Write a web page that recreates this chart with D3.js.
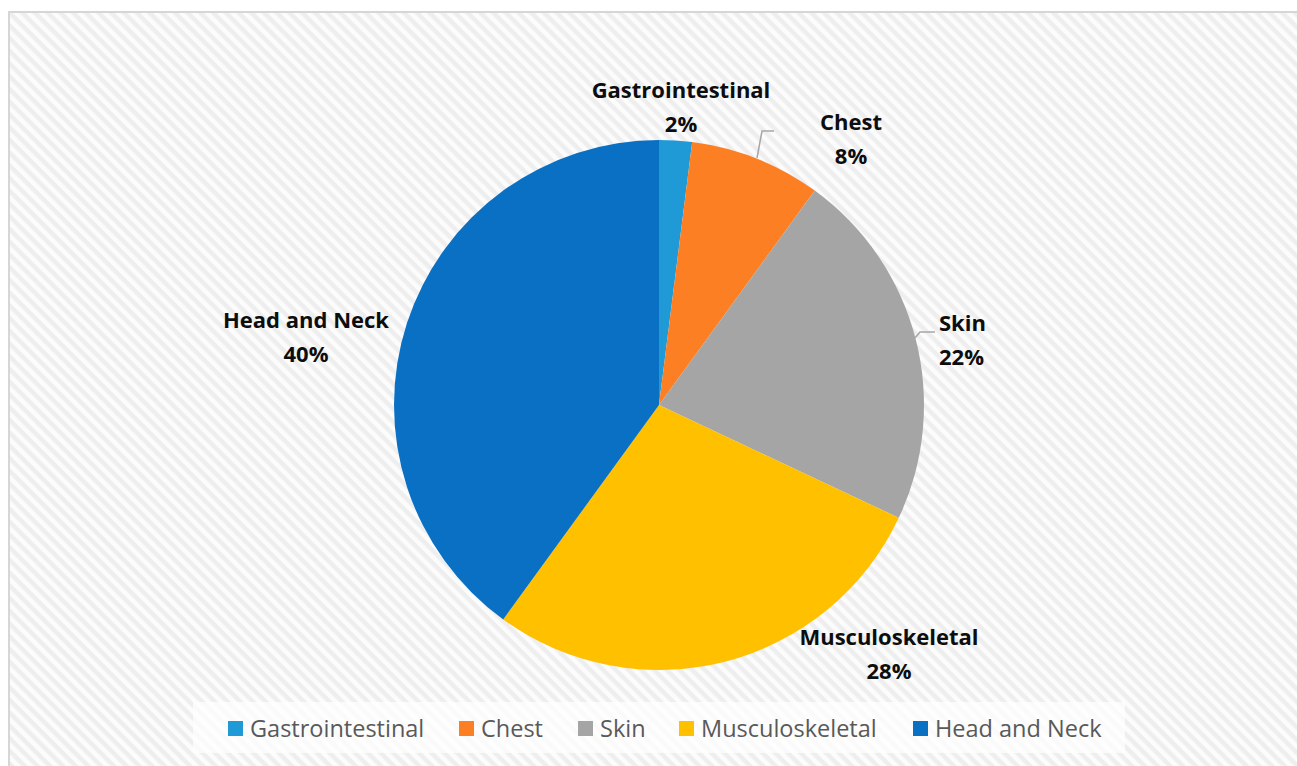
<!DOCTYPE html>
<html><head><meta charset="utf-8">
<script src="https://cdn.jsdelivr.net/npm/d3@7"></script>
<style>html,body{margin:0;padding:0;background:#fff;overflow:hidden}</style>
</head><body>
<svg id="chart" width="1297" height="766"></svg>
<script>
const categories = ["Gastrointestinal", "Chest", "Skin", "Musculoskeletal", "Head and Neck"];
const values = [2, 8, 22, 28, 40];
const colors = ["#1f9ad7", "#fd7f23", "#a5a5a5", "#ffc000", "#0a70c4"];
const labelText = ["2%", "8%", "22%", "28%", "40%"];

const svg = d3.select("#chart");
const defs = svg.append("defs");
const pat = defs.append("pattern").attr("id","hatch").attr("patternUnits","userSpaceOnUse")
  .attr("width",9).attr("height",9).attr("patternTransform","rotate(-45)");
pat.append("rect").attr("width",9).attr("height",9).attr("fill","#eeeeee");
pat.append("rect").attr("width",4.5).attr("height",9).attr("fill","#fcfcfc");

svg.append("rect").attr("x",9).attr("y",12).attr("width",1300).attr("height",770)
  .attr("fill","url(#hatch)").attr("stroke","#d6d6d6").attr("stroke-width",2);

const cx = 659, cy = 405, r = 265;
const data = categories.map((c,i)=>({cat:c, value:values[i], color:colors[i], label:labelText[i]}));
const pie = d3.pie().value(d=>d.value).sort(null);
const arcs = pie(data);
const arc = d3.arc().innerRadius(0).outerRadius(r);
const g = svg.append("g").attr("transform",`translate(${cx},${cy})`);
g.selectAll("path").data(arcs).join("path").attr("d",arc).attr("fill",d=>d.data.color);

// leader lines (Chest, Skin)
const lineColor = "#a6a6a6";
const leaders = [
  {i:1, pts:[[757,158],[762,131],[774,131]]},
  {i:2, pts:[[915,338],[920,332],[935,332]]}
];
svg.selectAll("path.leader").data(leaders).join("path").attr("class","leader")
  .attr("d",d=>d3.line()(d.pts)).attr("fill","none").attr("stroke",lineColor).attr("stroke-width",1.5);

// data labels
const labelPos = [
  {x:681, y:98, anchor:"middle"},
  {x:851, y:130, anchor:"middle"},
  {x:939, y:331, anchor:"start"},
  {x:889, y:645, anchor:"middle"},
  {x:306, y:328, anchor:"middle"}
];
const lab = svg.append("g").attr("font-family","'Open Sans', sans-serif").attr("font-weight","bold")
  .attr("font-size",22).attr("fill","#0d0d0d");
arcs.forEach((a,i)=>{
  const p = labelPos[i];
  const t = lab.append("text").attr("x",p.x).attr("y",p.y).attr("text-anchor",p.anchor);
  t.append("tspan").attr("x",p.x).text(a.data.cat);
  t.append("tspan").attr("x",p.x).attr("dy",34).text(a.data.label);
});

// legend
svg.append("rect").attr("x",193).attr("y",702).attr("width",932).attr("height",51)
  .attr("fill","#ffffff").attr("fill-opacity",0.7);
const legX = [228, 459, 578, 679, 913];
const leg = svg.append("g").attr("font-family","'Open Sans', sans-serif").attr("font-size",23.5).attr("fill","#595959");
data.forEach((d,i)=>{
  leg.append("rect").attr("x",legX[i]).attr("y",721).attr("width",15).attr("height",15).attr("fill",d.color);
  leg.append("text").attr("x",legX[i]+22).attr("y",737).text(d.cat);
});
</script>
</body></html>
